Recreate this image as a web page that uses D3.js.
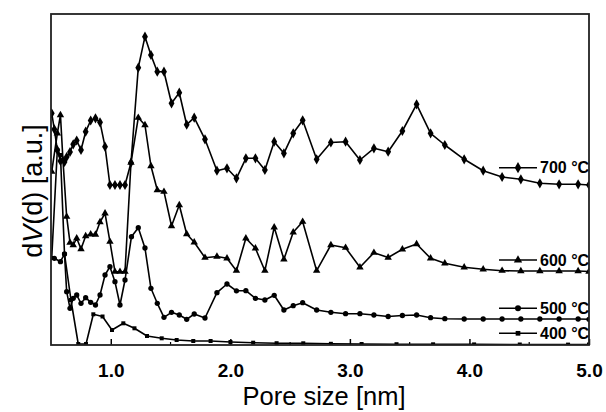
<!DOCTYPE html>
<html>
<head>
<meta charset="utf-8">
<script src="https://cdn.jsdelivr.net/npm/d3@7"></script>
<style>
  body { margin: 0; background: #fff; }
  svg { display: block; font-family: "Liberation Sans", Arial, sans-serif; }
</style>
</head>
<body>
<svg id="chart" width="606" height="412"></svg>
<script>
// pore size (nm) and dV(d) (a.u.)
var x700 = [0.506,0.528,0.553,0.579,0.613,0.631,0.659,0.686,0.715,0.751,0.790,0.832,0.872,0.910,0.952,0.993,1.035,1.077,1.119,1.169,1.230,1.286,1.336,1.389,1.445,1.508,1.573,1.635,1.698,1.788,1.888,1.972,2.051,2.130,2.210,2.289,2.367,2.448,2.526,2.605,2.722,2.841,2.964,3.084,3.201,3.320,3.439,3.558,3.675,3.794,3.956,4.115,4.273,4.430,4.589,4.750,4.909,5.0];
var y700 = [231.7,215.7,195,184,183,188,193,200.7,204.5,195,213.3,224.5,226.7,222.7,198.3,160,160,160,160,182.3,277.3,308.3,290,273.3,273.3,241.7,252.3,220.3,227.3,205.7,174.3,176.7,166.7,186.7,186.7,175,203.3,191.7,211.7,224.7,185.7,202.5,203.3,185,196.7,193.3,214,240.7,211.7,200,185.7,174.3,168,165.7,161.7,160.7,160.7,160];

var x600 = [0.506,0.553,0.579,0.600,0.631,0.659,0.686,0.715,0.751,0.790,0.832,0.872,0.910,0.952,0.993,1.035,1.077,1.119,1.169,1.230,1.286,1.336,1.389,1.445,1.508,1.573,1.635,1.698,1.788,1.888,1.972,2.051,2.130,2.210,2.289,2.367,2.448,2.526,2.605,2.722,2.841,2.964,3.084,3.201,3.320,3.439,3.558,3.675,3.794,3.956,4.115,4.273,4.430,4.589,4.750,4.909,5.0];
var y600 = [173.3,211.7,230,185,128.3,102.3,100,106.7,96,109,110.7,110.5,123,131.7,103.3,73.3,73.3,73.3,182.3,227.3,220,179,155,153.3,119,140,111,102.7,87.3,88.5,86.7,74.3,106.7,96.7,74.3,117.7,85.7,112.7,123.3,74.3,100,97.3,77.7,92.3,87.5,95.7,101,86.7,81.7,77.7,75.7,74.3,74,74,74,74,73.5];

var x500 = [0.528,0.579,0.613,0.631,0.659,0.686,0.715,0.751,0.790,0.832,0.872,0.910,0.952,0.993,1.035,1.077,1.119,1.173,1.230,1.286,1.336,1.389,1.445,1.508,1.573,1.635,1.698,1.788,1.888,1.972,2.051,2.130,2.210,2.289,2.367,2.448,2.526,2.605,2.722,2.841,2.964,3.084,3.201,3.320,3.439,3.558,3.675,3.794,3.956,4.115,4.273,4.430,4.589,4.750,4.909,5.0];
var y500 = [86.7,83.3,91,53.3,36.7,46.7,50,41.7,47.3,42.7,40,50,70,78.3,63.3,40,65,108.3,117.3,97,56.7,41.7,27.7,32.7,30,25.7,31,27,52.3,61,54.2,54.3,46.7,45,49.7,35,39.3,42.3,35,32.7,31.3,31.3,30,28.5,29.5,30,27.3,26.3,26,26,26,26,26,26,26,25.7];

var x400 = [0.506,0.553,0.579,0.613,0.667,0.728,0.793,0.854,0.931,1.010,1.105,1.198,1.303,1.426,1.551,1.690,1.835,2.001,2.191,2.387,2.610,2.841,3.098,3.390,3.696,4.039,4.421,4.825,5.0];
var y400 = [87,195,190,91,45,1,1,30.7,28.5,15,21.7,16.7,9,6.7,5,4,4,3,2.3,1.8,1.7,1.2,1,0.8,0.7,0.6,0.5,0.4,0.4];

var seriesNames = ["700 °C", "600 °C", "500 °C", "400 °C"];
var xTicks = [1, 2, 3, 4, 5];

var svg = d3.select("#chart");
var m = { left: 51, right: 589, top: 14, bottom: 345 };

var x = d3.scaleLinear().domain([0.5, 5.0]).range([m.left, m.right]);
var y = d3.scaleLinear().domain([0, 331]).range([m.bottom, m.top]);

var series = [
  { name: seriesNames[0], xs: x700, ys: y700, sym: d3.symbolDiamond, size: 30, legendY: 167.7 },
  { name: seriesNames[1], xs: x600, ys: y600, sym: d3.symbolTriangle, size: 24, legendY: 260 },
  { name: seriesNames[2], xs: x500, ys: y500, sym: d3.symbolCircle, size: 22, legendY: 308.3 },
  { name: seriesNames[3], xs: x400, ys: y400, sym: d3.symbolSquare, size: 16, legendY: 333.3 }
];

svg.append("clipPath").attr("id", "clip")
  .append("rect")
  .attr("x", m.left).attr("y", m.top)
  .attr("width", m.right - m.left).attr("height", m.bottom - m.top);

var line = d3.line()
  .x(function(d) { return x(d[0]); })
  .y(function(d) { return y(d[1]); });

series.forEach(function(s) {
  var pts = s.xs.map(function(v, i) { return [v, s.ys[i]]; });
  var g = svg.append("g").attr("clip-path", "url(#clip)");
  g.append("path")
    .datum(pts)
    .attr("d", line)
    .attr("fill", "none")
    .attr("stroke", "#000")
    .attr("stroke-width", 1.6)
    .attr("stroke-linejoin", "round");
  g.selectAll("path.pt")
    .data(pts)
    .enter().append("path")
    .attr("class", "pt")
    .attr("transform", function(d) { return "translate(" + x(d[0]) + "," + y(d[1]) + ")"; })
    .attr("d", d3.symbol().type(s.sym).size(s.size))
    .attr("fill", "#000");
});

// bottom axis with inward ticks
var xAxis = d3.axisBottom(x)
  .tickValues(xTicks)
  .tickSizeInner(-6)
  .tickSizeOuter(0)
  .tickPadding(19)
  .tickFormat(d3.format(".1f"));

var ax = svg.append("g")
  .attr("transform", "translate(0," + m.bottom + ")")
  .call(xAxis);
ax.select(".domain").remove();
ax.selectAll(".tick line").attr("stroke", "#000").attr("stroke-width", 1.5);
ax.selectAll(".tick text")
  .attr("font-size", 19)
  .attr("font-weight", "bold")
  .attr("fill", "#000")
  .attr("font-family", "Liberation Sans, Arial, sans-serif");

svg.append("g").selectAll("line")
  .data([1.5, 2.5, 3.5, 4.5])
  .enter().append("line")
  .attr("x1", function(d) { return x(d); })
  .attr("x2", function(d) { return x(d); })
  .attr("y1", m.bottom).attr("y2", m.bottom - 3)
  .attr("stroke", "#000").attr("stroke-width", 1.2);

// frame
svg.append("rect")
  .attr("x", m.left).attr("y", m.top)
  .attr("width", m.right - m.left).attr("height", m.bottom - m.top)
  .attr("fill", "none")
  .attr("stroke", "#222")
  .attr("stroke-width", 1.8);

// legend labels next to curve ends
series.forEach(function(s) {
  var lg = svg.append("g").attr("transform", "translate(0," + s.legendY + ")");
  lg.append("line")
    .attr("x1", 499).attr("x2", 537)
    .attr("stroke", "#000").attr("stroke-width", 1.6);
  lg.append("path")
    .attr("transform", "translate(518,0)")
    .attr("d", d3.symbol().type(s.sym).size(s.size + 6))
    .attr("fill", "#000");
  lg.append("text")
    .attr("x", 540).attr("dy", "0.36em")
    .attr("font-size", 16)
    .attr("font-weight", "bold")
    .text(s.name);
});

// axis titles
svg.append("text")
  .attr("x", (m.left + m.right) / 2 + 4)
  .attr("y", 405)
  .attr("text-anchor", "middle")
  .attr("font-size", 25.5)
  .text("Pore size [nm]");

var yt = svg.append("text")
  .attr("transform", "translate(42,191) rotate(-90)")
  .attr("text-anchor", "middle")
  .attr("font-size", 27);
yt.append("tspan").text("d");
yt.append("tspan").attr("font-style", "italic").text("V");
yt.append("tspan").text("(d) [a.u.]");
</script>
</body>
</html>
